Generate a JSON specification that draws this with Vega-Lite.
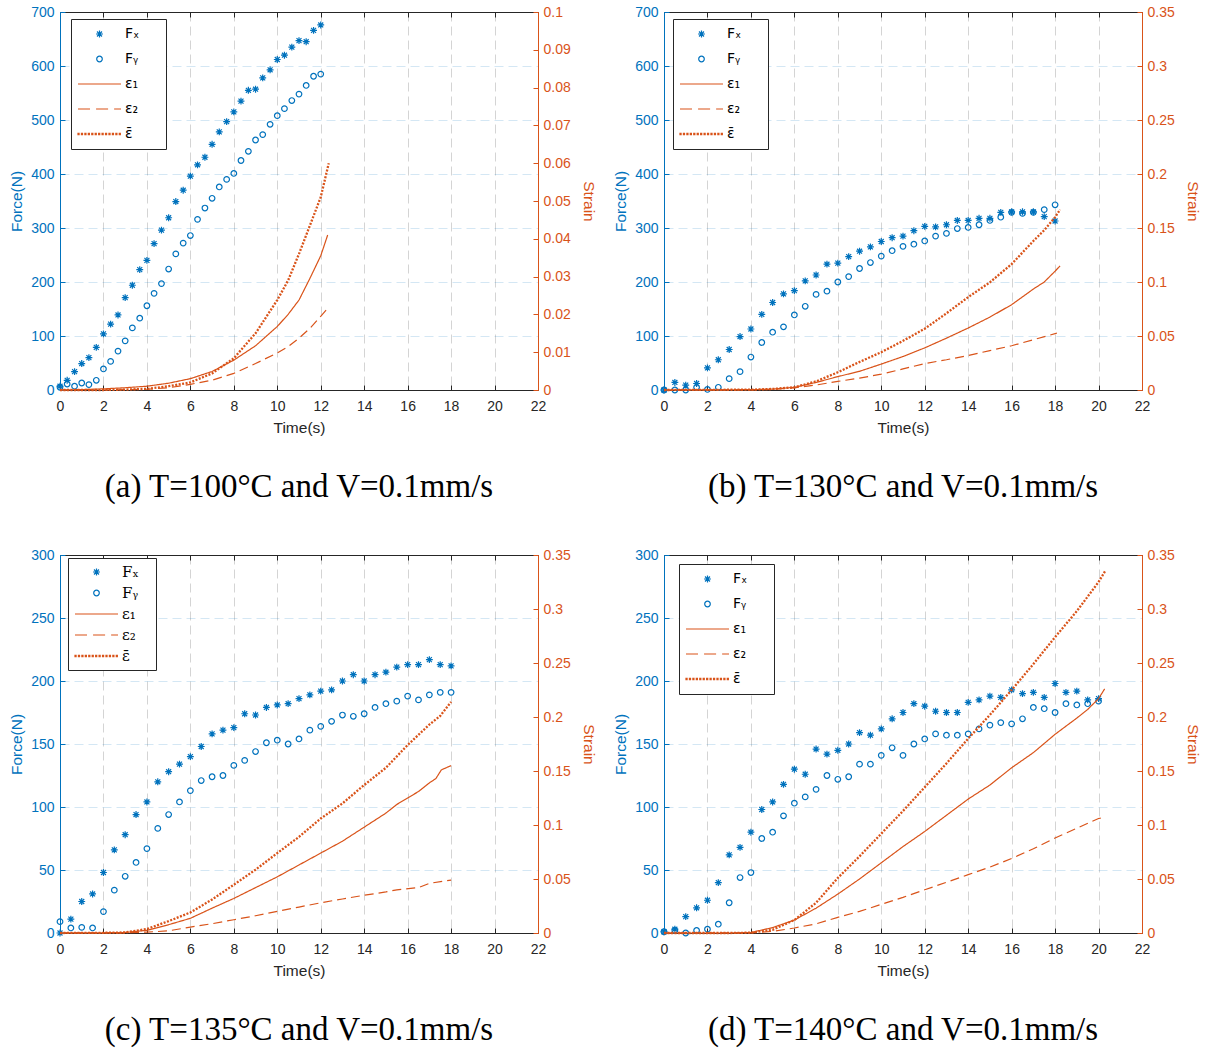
{
"$schema": "https://vega.github.io/schema/vega-lite/v6.json",
"background": "white",
"padding": {"left": 9, "top": 5, "right": 5, "bottom": 5},
"datasets": {
"fa": [
{"s":"Fx","t":0,"v":7},{"s":"Fx","t":0.33,"v":18},{"s":"Fx","t":0.67,"v":34},{"s":"Fx","t":1,"v":49},{"s":"Fx","t":1.33,"v":60},{"s":"Fx","t":1.67,"v":79},{"s":"Fx","t":2,"v":104},{"s":"Fx","t":2.33,"v":122},{"s":"Fx","t":2.67,"v":139},{"s":"Fx","t":3,"v":171},{"s":"Fx","t":3.33,"v":194},{"s":"Fx","t":3.67,"v":223},{"s":"Fx","t":4,"v":240},{"s":"Fx","t":4.33,"v":271},{"s":"Fx","t":4.67,"v":296},{"s":"Fx","t":5,"v":319},{"s":"Fx","t":5.33,"v":349},{"s":"Fx","t":5.67,"v":370},{"s":"Fx","t":6,"v":396},{"s":"Fx","t":6.33,"v":417},{"s":"Fx","t":6.67,"v":431},{"s":"Fx","t":7,"v":455},{"s":"Fx","t":7.33,"v":478},{"s":"Fx","t":7.67,"v":497},{"s":"Fx","t":8,"v":515},{"s":"Fx","t":8.33,"v":535},{"s":"Fx","t":8.67,"v":555},{"s":"Fx","t":9,"v":557},{"s":"Fx","t":9.33,"v":578},{"s":"Fx","t":9.67,"v":593},{"s":"Fx","t":10,"v":612},{"s":"Fx","t":10.33,"v":620},{"s":"Fx","t":10.67,"v":635},{"s":"Fx","t":11,"v":647},{"s":"Fx","t":11.33,"v":645},{"s":"Fx","t":11.67,"v":666},{"s":"Fx","t":12,"v":676},
{"s":"Fy","t":0,"v":5},{"s":"Fy","t":0.33,"v":11},{"s":"Fy","t":0.67,"v":7},{"s":"Fy","t":1,"v":13},{"s":"Fy","t":1.33,"v":10},{"s":"Fy","t":1.67,"v":18},{"s":"Fy","t":2,"v":39},{"s":"Fy","t":2.33,"v":53},{"s":"Fy","t":2.67,"v":72},{"s":"Fy","t":3,"v":91},{"s":"Fy","t":3.33,"v":115},{"s":"Fy","t":3.67,"v":133},{"s":"Fy","t":4,"v":156},{"s":"Fy","t":4.33,"v":179},{"s":"Fy","t":4.67,"v":197},{"s":"Fy","t":5,"v":224},{"s":"Fy","t":5.33,"v":252},{"s":"Fy","t":5.67,"v":272},{"s":"Fy","t":6,"v":286},{"s":"Fy","t":6.33,"v":316},{"s":"Fy","t":6.67,"v":337},{"s":"Fy","t":7,"v":355},{"s":"Fy","t":7.33,"v":376},{"s":"Fy","t":7.67,"v":390},{"s":"Fy","t":8,"v":401},{"s":"Fy","t":8.33,"v":425},{"s":"Fy","t":8.67,"v":442},{"s":"Fy","t":9,"v":463},{"s":"Fy","t":9.33,"v":473},{"s":"Fy","t":9.67,"v":492},{"s":"Fy","t":10,"v":508},{"s":"Fy","t":10.33,"v":521},{"s":"Fy","t":10.67,"v":536},{"s":"Fy","t":11,"v":548},{"s":"Fy","t":11.33,"v":564},{"s":"Fy","t":11.67,"v":581},{"s":"Fy","t":12,"v":585}
],
"sa": [
{"s":"e1","t":0,"v":0},{"s":"e1","t":1,"v":0.0001},{"s":"e1","t":2,"v":0.0003},{"s":"e1","t":3,"v":0.0006},{"s":"e1","t":4,"v":0.001},{"s":"e1","t":5,"v":0.0018},{"s":"e1","t":6,"v":0.003},{"s":"e1","t":7,"v":0.0049},{"s":"e1","t":8,"v":0.0079},{"s":"e1","t":9,"v":0.0117},{"s":"e1","t":10,"v":0.0168},{"s":"e1","t":10.5,"v":0.02},{"s":"e1","t":11,"v":0.0238},{"s":"e1","t":11.5,"v":0.0295},{"s":"e1","t":12,"v":0.0355},{"s":"e1","t":12.32,"v":0.041},
{"s":"e2","t":0,"v":0},{"s":"e2","t":2,"v":0},{"s":"e2","t":3,"v":0.0001},{"s":"e2","t":4,"v":0.0002},{"s":"e2","t":5,"v":0.0006},{"s":"e2","t":6,"v":0.0015},{"s":"e2","t":7,"v":0.0026},{"s":"e2","t":8,"v":0.0044},{"s":"e2","t":9,"v":0.007},{"s":"e2","t":10,"v":0.0098},{"s":"e2","t":10.5,"v":0.0115},{"s":"e2","t":11,"v":0.0137},{"s":"e2","t":11.5,"v":0.0163},{"s":"e2","t":12,"v":0.0195},{"s":"e2","t":12.3,"v":0.0215},
{"s":"ebar","t":0,"v":0},{"s":"ebar","t":2,"v":0},{"s":"ebar","t":3,"v":0.0001},{"s":"ebar","t":4,"v":0.0003},{"s":"ebar","t":5,"v":0.001},{"s":"ebar","t":6,"v":0.002},{"s":"ebar","t":7,"v":0.0044},{"s":"ebar","t":8,"v":0.0084},{"s":"ebar","t":9,"v":0.015},{"s":"ebar","t":10,"v":0.0238},{"s":"ebar","t":10.5,"v":0.029},{"s":"ebar","t":11,"v":0.036},{"s":"ebar","t":11.5,"v":0.0435},{"s":"ebar","t":12,"v":0.051},{"s":"ebar","t":12.37,"v":0.06}
],
"fb": [
{"s":"Fx","t":0,"v":0},{"s":"Fx","t":0.5,"v":14},{"s":"Fx","t":1,"v":9},{"s":"Fx","t":1.5,"v":12},{"s":"Fx","t":2,"v":41},{"s":"Fx","t":2.5,"v":56},{"s":"Fx","t":3,"v":75},{"s":"Fx","t":3.5,"v":99},{"s":"Fx","t":4,"v":113},{"s":"Fx","t":4.5,"v":140},{"s":"Fx","t":5,"v":162},{"s":"Fx","t":5.5,"v":178},{"s":"Fx","t":6,"v":184},{"s":"Fx","t":6.5,"v":202},{"s":"Fx","t":7,"v":213},{"s":"Fx","t":7.5,"v":233},{"s":"Fx","t":8,"v":235},{"s":"Fx","t":8.5,"v":247},{"s":"Fx","t":9,"v":257},{"s":"Fx","t":9.5,"v":265},{"s":"Fx","t":10,"v":275},{"s":"Fx","t":10.5,"v":282},{"s":"Fx","t":11,"v":285},{"s":"Fx","t":11.5,"v":295},{"s":"Fx","t":12,"v":303},{"s":"Fx","t":12.5,"v":302},{"s":"Fx","t":13,"v":306},{"s":"Fx","t":13.5,"v":314},{"s":"Fx","t":14,"v":314},{"s":"Fx","t":14.5,"v":318},{"s":"Fx","t":15,"v":318},{"s":"Fx","t":15.5,"v":329},{"s":"Fx","t":16,"v":330},{"s":"Fx","t":16.5,"v":330},{"s":"Fx","t":17,"v":330},{"s":"Fx","t":17.5,"v":321},{"s":"Fx","t":18,"v":313},
{"s":"Fy","t":0,"v":0},{"s":"Fy","t":0.5,"v":0},{"s":"Fy","t":1,"v":0},{"s":"Fy","t":1.5,"v":5},{"s":"Fy","t":2,"v":1},{"s":"Fy","t":2.5,"v":5},{"s":"Fy","t":3,"v":21},{"s":"Fy","t":3.5,"v":34},{"s":"Fy","t":4,"v":61},{"s":"Fy","t":4.5,"v":88},{"s":"Fy","t":5,"v":107},{"s":"Fy","t":5.5,"v":117},{"s":"Fy","t":6,"v":139},{"s":"Fy","t":6.5,"v":155},{"s":"Fy","t":7,"v":177},{"s":"Fy","t":7.5,"v":183},{"s":"Fy","t":8,"v":200},{"s":"Fy","t":8.5,"v":210},{"s":"Fy","t":9,"v":225},{"s":"Fy","t":9.5,"v":236},{"s":"Fy","t":10,"v":248},{"s":"Fy","t":10.5,"v":258},{"s":"Fy","t":11,"v":266},{"s":"Fy","t":11.5,"v":270},{"s":"Fy","t":12,"v":276},{"s":"Fy","t":12.5,"v":285},{"s":"Fy","t":13,"v":290},{"s":"Fy","t":13.5,"v":299},{"s":"Fy","t":14,"v":301},{"s":"Fy","t":14.5,"v":306},{"s":"Fy","t":15,"v":314},{"s":"Fy","t":15.5,"v":320},{"s":"Fy","t":16,"v":329},{"s":"Fy","t":16.5,"v":327},{"s":"Fy","t":17,"v":329},{"s":"Fy","t":17.5,"v":334},{"s":"Fy","t":18,"v":343}
],
"sb": [
{"s":"e1","t":0,"v":0},{"s":"e1","t":4,"v":0.0003},{"s":"e1","t":5,"v":0.0008},{"s":"e1","t":6,"v":0.0025},{"s":"e1","t":7,"v":0.007},{"s":"e1","t":8,"v":0.0124},{"s":"e1","t":9,"v":0.0173},{"s":"e1","t":10,"v":0.024},{"s":"e1","t":11,"v":0.031},{"s":"e1","t":12,"v":0.039},{"s":"e1","t":13,"v":0.048},{"s":"e1","t":14,"v":0.0574},{"s":"e1","t":15,"v":0.0675},{"s":"e1","t":16,"v":0.079},{"s":"e1","t":17,"v":0.0935},{"s":"e1","t":17.5,"v":0.1},{"s":"e1","t":18,"v":0.11},{"s":"e1","t":18.23,"v":0.115},
{"s":"e2","t":0,"v":0},{"s":"e2","t":4,"v":0.0002},{"s":"e2","t":5,"v":0.0006},{"s":"e2","t":6,"v":0.002},{"s":"e2","t":7,"v":0.0046},{"s":"e2","t":8,"v":0.008},{"s":"e2","t":9,"v":0.011},{"s":"e2","t":10,"v":0.0147},{"s":"e2","t":11,"v":0.0195},{"s":"e2","t":12,"v":0.0245},{"s":"e2","t":13,"v":0.028},{"s":"e2","t":14,"v":0.032},{"s":"e2","t":15,"v":0.0365},{"s":"e2","t":16,"v":0.041},{"s":"e2","t":17,"v":0.0465},{"s":"e2","t":18.08,"v":0.0527},
{"s":"ebar","t":0,"v":0},{"s":"ebar","t":4,"v":0.0003},{"s":"ebar","t":5,"v":0.001},{"s":"ebar","t":6,"v":0.0025},{"s":"ebar","t":7,"v":0.008},{"s":"ebar","t":8,"v":0.0164},{"s":"ebar","t":9,"v":0.026},{"s":"ebar","t":10,"v":0.035},{"s":"ebar","t":11,"v":0.0455},{"s":"ebar","t":12,"v":0.0567},{"s":"ebar","t":13,"v":0.071},{"s":"ebar","t":14,"v":0.086},{"s":"ebar","t":15,"v":0.0997},{"s":"ebar","t":16,"v":0.1166},{"s":"ebar","t":17,"v":0.138},{"s":"ebar","t":17.5,"v":0.148},{"s":"ebar","t":18,"v":0.16},{"s":"ebar","t":18.23,"v":0.167}
],
"fc": [
{"s":"Fx","t":0,"v":0},{"s":"Fx","t":0.5,"v":11},{"s":"Fx","t":1,"v":25},{"s":"Fx","t":1.5,"v":31},{"s":"Fx","t":2,"v":48},{"s":"Fx","t":2.5,"v":66},{"s":"Fx","t":3,"v":78},{"s":"Fx","t":3.5,"v":94},{"s":"Fx","t":4,"v":104},{"s":"Fx","t":4.5,"v":120},{"s":"Fx","t":5,"v":128},{"s":"Fx","t":5.5,"v":134},{"s":"Fx","t":6,"v":140},{"s":"Fx","t":6.5,"v":148},{"s":"Fx","t":7,"v":158},{"s":"Fx","t":7.5,"v":161},{"s":"Fx","t":8,"v":163},{"s":"Fx","t":8.5,"v":174},{"s":"Fx","t":9,"v":173},{"s":"Fx","t":9.5,"v":179},{"s":"Fx","t":10,"v":181},{"s":"Fx","t":10.5,"v":182},{"s":"Fx","t":11,"v":186},{"s":"Fx","t":11.5,"v":189},{"s":"Fx","t":12,"v":192},{"s":"Fx","t":12.5,"v":193},{"s":"Fx","t":13,"v":200},{"s":"Fx","t":13.5,"v":205},{"s":"Fx","t":14,"v":200},{"s":"Fx","t":14.5,"v":205},{"s":"Fx","t":15,"v":207},{"s":"Fx","t":15.5,"v":211},{"s":"Fx","t":16,"v":213},{"s":"Fx","t":16.5,"v":213},{"s":"Fx","t":17,"v":217},{"s":"Fx","t":17.5,"v":213},{"s":"Fx","t":18,"v":212},
{"s":"Fy","t":0,"v":9},{"s":"Fy","t":0.5,"v":4},{"s":"Fy","t":1,"v":4.5},{"s":"Fy","t":1.5,"v":4},{"s":"Fy","t":2,"v":17},{"s":"Fy","t":2.5,"v":34},{"s":"Fy","t":3,"v":45},{"s":"Fy","t":3.5,"v":56},{"s":"Fy","t":4,"v":67},{"s":"Fy","t":4.5,"v":83},{"s":"Fy","t":5,"v":94},{"s":"Fy","t":5.5,"v":104},{"s":"Fy","t":6,"v":113},{"s":"Fy","t":6.5,"v":121},{"s":"Fy","t":7,"v":124},{"s":"Fy","t":7.5,"v":125},{"s":"Fy","t":8,"v":133},{"s":"Fy","t":8.5,"v":137},{"s":"Fy","t":9,"v":144},{"s":"Fy","t":9.5,"v":151},{"s":"Fy","t":10,"v":153},{"s":"Fy","t":10.5,"v":150},{"s":"Fy","t":11,"v":154},{"s":"Fy","t":11.5,"v":161},{"s":"Fy","t":12,"v":164},{"s":"Fy","t":12.5,"v":168},{"s":"Fy","t":13,"v":173},{"s":"Fy","t":13.5,"v":172},{"s":"Fy","t":14,"v":174},{"s":"Fy","t":14.5,"v":179},{"s":"Fy","t":15,"v":182},{"s":"Fy","t":15.5,"v":184},{"s":"Fy","t":16,"v":188},{"s":"Fy","t":16.5,"v":185},{"s":"Fy","t":17,"v":189},{"s":"Fy","t":17.5,"v":191},{"s":"Fy","t":18,"v":191}
],
"sc": [
{"s":"e1","t":0,"v":0},{"s":"e1","t":2,"v":0.0002},{"s":"e1","t":3,"v":0.0005},{"s":"e1","t":4,"v":0.0025},{"s":"e1","t":5,"v":0.0077},{"s":"e1","t":6,"v":0.0136},{"s":"e1","t":7,"v":0.023},{"s":"e1","t":8,"v":0.032},{"s":"e1","t":9,"v":0.042},{"s":"e1","t":10,"v":0.052},{"s":"e1","t":11,"v":0.063},{"s":"e1","t":12,"v":0.074},{"s":"e1","t":13,"v":0.085},{"s":"e1","t":14,"v":0.098},{"s":"e1","t":15,"v":0.111},{"s":"e1","t":15.5,"v":0.119},{"s":"e1","t":16,"v":0.125},{"s":"e1","t":16.5,"v":0.131},{"s":"e1","t":17,"v":0.139},{"s":"e1","t":17.3,"v":0.143},{"s":"e1","t":17.55,"v":0.151},{"s":"e1","t":18,"v":0.155},
{"s":"e2","t":0,"v":0},{"s":"e2","t":3,"v":0.0002},{"s":"e2","t":4,"v":0.0008},{"s":"e2","t":5,"v":0.002},{"s":"e2","t":6,"v":0.0055},{"s":"e2","t":7,"v":0.0086},{"s":"e2","t":8,"v":0.0123},{"s":"e2","t":9,"v":0.016},{"s":"e2","t":10,"v":0.02},{"s":"e2","t":11,"v":0.024},{"s":"e2","t":12,"v":0.028},{"s":"e2","t":13,"v":0.0315},{"s":"e2","t":14,"v":0.035},{"s":"e2","t":15,"v":0.038},{"s":"e2","t":15.5,"v":0.04},{"s":"e2","t":16.5,"v":0.042},{"s":"e2","t":17,"v":0.046},{"s":"e2","t":18,"v":0.049},
{"s":"ebar","t":0,"v":0},{"s":"ebar","t":2,"v":0.0002},{"s":"ebar","t":3,"v":0.0005},{"s":"ebar","t":4,"v":0.0037},{"s":"ebar","t":5,"v":0.011},{"s":"ebar","t":6,"v":0.019},{"s":"ebar","t":7,"v":0.031},{"s":"ebar","t":8,"v":0.0447},{"s":"ebar","t":9,"v":0.0586},{"s":"ebar","t":10,"v":0.074},{"s":"ebar","t":11,"v":0.089},{"s":"ebar","t":12,"v":0.106},{"s":"ebar","t":13,"v":0.12},{"s":"ebar","t":14,"v":0.137},{"s":"ebar","t":15,"v":0.153},{"s":"ebar","t":16,"v":0.174},{"s":"ebar","t":17,"v":0.193},{"s":"ebar","t":17.5,"v":0.201},{"s":"ebar","t":18,"v":0.214}
],
"fd": [
{"s":"Fx","t":0,"v":1},{"s":"Fx","t":0.5,"v":3},{"s":"Fx","t":1,"v":13},{"s":"Fx","t":1.5,"v":20},{"s":"Fx","t":2,"v":26},{"s":"Fx","t":2.5,"v":40},{"s":"Fx","t":3,"v":62},{"s":"Fx","t":3.5,"v":68},{"s":"Fx","t":4,"v":80},{"s":"Fx","t":4.5,"v":98},{"s":"Fx","t":5,"v":104},{"s":"Fx","t":5.5,"v":118},{"s":"Fx","t":6,"v":130},{"s":"Fx","t":6.5,"v":126},{"s":"Fx","t":7,"v":146},{"s":"Fx","t":7.5,"v":142},{"s":"Fx","t":8,"v":145},{"s":"Fx","t":8.5,"v":150},{"s":"Fx","t":9,"v":159},{"s":"Fx","t":9.5,"v":157},{"s":"Fx","t":10,"v":162},{"s":"Fx","t":10.5,"v":170},{"s":"Fx","t":11,"v":175},{"s":"Fx","t":11.5,"v":182},{"s":"Fx","t":12,"v":180},{"s":"Fx","t":12.5,"v":176},{"s":"Fx","t":13,"v":175},{"s":"Fx","t":13.5,"v":175},{"s":"Fx","t":14,"v":183},{"s":"Fx","t":14.5,"v":185},{"s":"Fx","t":15,"v":188},{"s":"Fx","t":15.5,"v":187},{"s":"Fx","t":16,"v":193},{"s":"Fx","t":16.5,"v":190},{"s":"Fx","t":17,"v":191},{"s":"Fx","t":17.5,"v":187},{"s":"Fx","t":18,"v":198},{"s":"Fx","t":18.5,"v":191},{"s":"Fx","t":19,"v":192},{"s":"Fx","t":19.5,"v":185},{"s":"Fx","t":20,"v":186},
{"s":"Fy","t":0,"v":1},{"s":"Fy","t":0.5,"v":2},{"s":"Fy","t":1,"v":0},{"s":"Fy","t":1.5,"v":2},{"s":"Fy","t":2,"v":3},{"s":"Fy","t":2.5,"v":7},{"s":"Fy","t":3,"v":24},{"s":"Fy","t":3.5,"v":44},{"s":"Fy","t":4,"v":48},{"s":"Fy","t":4.5,"v":75},{"s":"Fy","t":5,"v":80},{"s":"Fy","t":5.5,"v":93},{"s":"Fy","t":6,"v":103},{"s":"Fy","t":6.5,"v":108},{"s":"Fy","t":7,"v":114},{"s":"Fy","t":7.5,"v":125},{"s":"Fy","t":8,"v":122},{"s":"Fy","t":8.5,"v":124},{"s":"Fy","t":9,"v":134},{"s":"Fy","t":9.5,"v":134},{"s":"Fy","t":10,"v":141},{"s":"Fy","t":10.5,"v":147},{"s":"Fy","t":11,"v":141},{"s":"Fy","t":11.5,"v":150},{"s":"Fy","t":12,"v":154},{"s":"Fy","t":12.5,"v":158},{"s":"Fy","t":13,"v":157},{"s":"Fy","t":13.5,"v":157},{"s":"Fy","t":14,"v":158},{"s":"Fy","t":14.5,"v":162},{"s":"Fy","t":15,"v":165},{"s":"Fy","t":15.5,"v":167},{"s":"Fy","t":16,"v":166},{"s":"Fy","t":16.5,"v":170},{"s":"Fy","t":17,"v":179},{"s":"Fy","t":17.5,"v":178},{"s":"Fy","t":18,"v":175},{"s":"Fy","t":18.5,"v":182},{"s":"Fy","t":19,"v":181},{"s":"Fy","t":19.5,"v":182},{"s":"Fy","t":20,"v":184}
],
"sd": [
{"s":"e1","t":0,"v":0},{"s":"e1","t":3,"v":0},{"s":"e1","t":4,"v":0.0005},{"s":"e1","t":5,"v":0.005},{"s":"e1","t":6,"v":0.012},{"s":"e1","t":7,"v":0.023},{"s":"e1","t":8,"v":0.036},{"s":"e1","t":9,"v":0.05},{"s":"e1","t":10,"v":0.065},{"s":"e1","t":11,"v":0.08},{"s":"e1","t":12,"v":0.094},{"s":"e1","t":13,"v":0.109},{"s":"e1","t":14,"v":0.124},{"s":"e1","t":15,"v":0.137},{"s":"e1","t":16,"v":0.153},{"s":"e1","t":17,"v":0.167},{"s":"e1","t":18,"v":0.184},{"s":"e1","t":19,"v":0.199},{"s":"e1","t":19.5,"v":0.207},{"s":"e1","t":20,"v":0.217},{"s":"e1","t":20.28,"v":0.226},
{"s":"e2","t":0,"v":0},{"s":"e2","t":4,"v":0.0002},{"s":"e2","t":5,"v":0.0015},{"s":"e2","t":6,"v":0.0046},{"s":"e2","t":7,"v":0.0085},{"s":"e2","t":8,"v":0.0145},{"s":"e2","t":9,"v":0.02},{"s":"e2","t":10,"v":0.0265},{"s":"e2","t":11,"v":0.033},{"s":"e2","t":12,"v":0.04},{"s":"e2","t":13,"v":0.047},{"s":"e2","t":14,"v":0.054},{"s":"e2","t":15,"v":0.061},{"s":"e2","t":16,"v":0.069},{"s":"e2","t":17,"v":0.078},{"s":"e2","t":18,"v":0.088},{"s":"e2","t":19,"v":0.097},{"s":"e2","t":20,"v":0.106},{"s":"e2","t":20.28,"v":0.107},
{"s":"ebar","t":0,"v":0},{"s":"ebar","t":3,"v":0},{"s":"ebar","t":4,"v":0.0003},{"s":"ebar","t":5,"v":0.003},{"s":"ebar","t":6,"v":0.012},{"s":"ebar","t":7,"v":0.028},{"s":"ebar","t":8,"v":0.051},{"s":"ebar","t":9,"v":0.071},{"s":"ebar","t":10,"v":0.092},{"s":"ebar","t":11,"v":0.113},{"s":"ebar","t":12,"v":0.135},{"s":"ebar","t":13,"v":0.157},{"s":"ebar","t":14,"v":0.18},{"s":"ebar","t":15,"v":0.202},{"s":"ebar","t":16,"v":0.225},{"s":"ebar","t":17,"v":0.249},{"s":"ebar","t":18,"v":0.274},{"s":"ebar","t":19,"v":0.298},{"s":"ebar","t":20,"v":0.325},{"s":"ebar","t":20.3,"v":0.335}
]
},
"columns": 2,
"spacing": {"row": 165, "column": 126},
"bounds": "flush",
"resolve": {"scale": {"x": "independent", "y": "independent", "color": "independent", "shape": "independent", "strokeDash": "independent"}},
"concat": [
{
"width": 478, "height": 378,
"title": {"text": "(a) T=100°C and V=0.1mm/s"},
"resolve": {"scale": {"y": "independent"}, "axis": {"x": "independent"}},
"layer": [
{"data": {"name": "fa"},
"mark": {"type": "point", "filled": false, "size": 1849, "strokeWidth": 1.2, "opacity": 1},
"encoding": {
"x": {"field": "t", "type": "quantitative", "scale": {"domain": [0, 22], "nice": false}, "axis": {"orient": "bottom", "title": "Time(s)", "grid": true, "values": [0,2,4,6,8,10,12,14,16,18,20,22]}},
"y": {"field": "v", "type": "quantitative", "scale": {"domain": [0, 700], "nice": false}, "axis": {"orient": "left", "title": "Force(N)", "grid": true, "values": [0,100,200,300,400,500,600,700]}},
"color": {"field": "s", "type": "nominal", "scale": {"domain": ["Fx","Fy","e1","e2","ebar"], "range": ["#0072BD","#0072BD","#D95319","#D95319","#D95319"]}, "legend": {"orient": "none", "legendX": 11, "legendY": 7, "labelExpr": "(datum.label=='Fx'?'F\u2093':datum.label=='Fy'?'F\u1d67':datum.label=='e1'?'\u03b5\u2081':datum.label=='e2'?'\u03b5\u2082':'\u03b5\u0304')+'\u2800\u2800'"}},
"shape": {"field": "s", "type": "nominal", "scale": {"domain": ["Fx","Fy","e1","e2","ebar"], "range": ["M-0.16,0H0.16M0,-0.16V0.16M-0.115,-0.115L0.115,0.115M-0.115,0.115L0.115,-0.115","M0.13,0A0.13,0.13,0,1,1,-0.13,0A0.13,0.13,0,1,1,0.13,0Z","M-1,0H1","M-1,0H-0.44M-0.16,0H0.4M0.68,0H1","M-1,-0.025h0.05v0.05h-0.05zM-0.84,-0.025h0.05v0.05h-0.05zM-0.68,-0.025h0.05v0.05h-0.05zM-0.52,-0.025h0.05v0.05h-0.05zM-0.36,-0.025h0.05v0.05h-0.05zM-0.2,-0.025h0.05v0.05h-0.05zM-0.04,-0.025h0.05v0.05h-0.05zM0.12,-0.025h0.05v0.05h-0.05zM0.28,-0.025h0.05v0.05h-0.05zM0.44,-0.025h0.05v0.05h-0.05zM0.6,-0.025h0.05v0.05h-0.05zM0.76,-0.025h0.05v0.05h-0.05zM0.92,-0.025h0.05v0.05h-0.05z"]}, "legend": {"orient": "none", "legendX": 11, "legendY": 7, "labelExpr": "(datum.label=='Fx'?'F\u2093':datum.label=='Fy'?'F\u1d67':datum.label=='e1'?'\u03b5\u2081':datum.label=='e2'?'\u03b5\u2082':'\u03b5\u0304')+'\u2800\u2800'"}}
}},
{"data": {"name": "sa"},
"mark": {"type": "line"},
"encoding": {
"x": {"field": "t", "type": "quantitative", "scale": {"domain": [0, 22], "nice": false}, "axis": {"orient": "top", "title": null, "labels": false, "grid": false, "values": [0,2,4,6,8,10,12,14,16,18,20,22]}},
"y": {"field": "v", "type": "quantitative", "scale": {"domain": [0, 0.1], "nice": false}, "axis": {"orient": "right", "title": "Strain", "grid": false, "format": "~g", "values": [0,0.01,0.02,0.03,0.04,0.05,0.06,0.07,0.08,0.09,0.1]}},
"color": {"field": "s", "type": "nominal", "scale": {"domain": ["Fx","Fy","e1","e2","ebar"], "range": ["#0072BD","#0072BD","#D95319","#D95319","#D95319"]}, "legend": null},
"strokeDash": {"field": "s", "type": "nominal", "scale": {"domain": ["e1","e2","ebar"], "range": [[1,0],[9,5],[2,1.5]]}, "legend": null},
"strokeWidth": {"condition": {"test": "datum.s=='ebar'", "value": 2.3}, "value": 1.2}
}}
]
},
{
"width": 478, "height": 378,
"title": {"text": "(b) T=130°C and V=0.1mm/s"},
"resolve": {"scale": {"y": "independent"}, "axis": {"x": "independent"}},
"layer": [
{"data": {"name": "fb"},
"mark": {"type": "point", "filled": false, "size": 1849, "strokeWidth": 1.2, "opacity": 1},
"encoding": {
"x": {"field": "t", "type": "quantitative", "scale": {"domain": [0, 22], "nice": false}, "axis": {"orient": "bottom", "title": "Time(s)", "grid": true, "values": [0,2,4,6,8,10,12,14,16,18,20,22]}},
"y": {"field": "v", "type": "quantitative", "scale": {"domain": [0, 700], "nice": false}, "axis": {"orient": "left", "title": "Force(N)", "grid": true, "values": [0,100,200,300,400,500,600,700]}},
"color": {"field": "s", "type": "nominal", "scale": {"domain": ["Fx","Fy","e1","e2","ebar"], "range": ["#0072BD","#0072BD","#D95319","#D95319","#D95319"]}, "legend": {"orient": "none", "legendX": 9, "legendY": 7, "labelExpr": "(datum.label=='Fx'?'F\u2093':datum.label=='Fy'?'F\u1d67':datum.label=='e1'?'\u03b5\u2081':datum.label=='e2'?'\u03b5\u2082':'\u03b5\u0304')+'\u2800\u2800'"}},
"shape": {"field": "s", "type": "nominal", "scale": {"domain": ["Fx","Fy","e1","e2","ebar"], "range": ["M-0.16,0H0.16M0,-0.16V0.16M-0.115,-0.115L0.115,0.115M-0.115,0.115L0.115,-0.115","M0.13,0A0.13,0.13,0,1,1,-0.13,0A0.13,0.13,0,1,1,0.13,0Z","M-1,0H1","M-1,0H-0.44M-0.16,0H0.4M0.68,0H1","M-1,-0.025h0.05v0.05h-0.05zM-0.84,-0.025h0.05v0.05h-0.05zM-0.68,-0.025h0.05v0.05h-0.05zM-0.52,-0.025h0.05v0.05h-0.05zM-0.36,-0.025h0.05v0.05h-0.05zM-0.2,-0.025h0.05v0.05h-0.05zM-0.04,-0.025h0.05v0.05h-0.05zM0.12,-0.025h0.05v0.05h-0.05zM0.28,-0.025h0.05v0.05h-0.05zM0.44,-0.025h0.05v0.05h-0.05zM0.6,-0.025h0.05v0.05h-0.05zM0.76,-0.025h0.05v0.05h-0.05zM0.92,-0.025h0.05v0.05h-0.05z"]}, "legend": {"orient": "none", "legendX": 9, "legendY": 7, "labelExpr": "(datum.label=='Fx'?'F\u2093':datum.label=='Fy'?'F\u1d67':datum.label=='e1'?'\u03b5\u2081':datum.label=='e2'?'\u03b5\u2082':'\u03b5\u0304')+'\u2800\u2800'"}}
}},
{"data": {"name": "sb"},
"mark": {"type": "line"},
"encoding": {
"x": {"field": "t", "type": "quantitative", "scale": {"domain": [0, 22], "nice": false}, "axis": {"orient": "top", "title": null, "labels": false, "grid": false, "values": [0,2,4,6,8,10,12,14,16,18,20,22]}},
"y": {"field": "v", "type": "quantitative", "scale": {"domain": [0, 0.35], "nice": false}, "axis": {"orient": "right", "title": "Strain", "grid": false, "format": "~g", "values": [0,0.05,0.1,0.15,0.2,0.25,0.3,0.35]}},
"color": {"field": "s", "type": "nominal", "scale": {"domain": ["Fx","Fy","e1","e2","ebar"], "range": ["#0072BD","#0072BD","#D95319","#D95319","#D95319"]}, "legend": null},
"strokeDash": {"field": "s", "type": "nominal", "scale": {"domain": ["e1","e2","ebar"], "range": [[1,0],[9,5],[2,1.5]]}, "legend": null},
"strokeWidth": {"condition": {"test": "datum.s=='ebar'", "value": 2.3}, "value": 1.2}
}}
]
},
{
"width": 478, "height": 378,
"title": {"text": "(c) T=135°C and V=0.1mm/s"},
"resolve": {"scale": {"y": "independent"}, "axis": {"x": "independent"}},
"layer": [
{"data": {"name": "fc"},
"mark": {"type": "point", "filled": false, "size": 1849, "strokeWidth": 1.2, "opacity": 1},
"encoding": {
"x": {"field": "t", "type": "quantitative", "scale": {"domain": [0, 22], "nice": false}, "axis": {"orient": "bottom", "title": "Time(s)", "grid": true, "values": [0,2,4,6,8,10,12,14,16,18,20,22]}},
"y": {"field": "v", "type": "quantitative", "scale": {"domain": [0, 300], "nice": false}, "axis": {"orient": "left", "title": "Force(N)", "grid": true, "values": [0,50,100,150,200,250,300]}},
"color": {"field": "s", "type": "nominal", "scale": {"domain": ["Fx","Fy","e1","e2","ebar"], "range": ["#0072BD","#0072BD","#D95319","#D95319","#D95319"]}, "legend": {"orient": "none", "legendX": 8, "legendY": 3, "labelFont": "DejaVu Serif", "labelFontSize": 15, "clipHeight": 16, "rowPadding": 5, "labelExpr": "(datum.label=='Fx'?'F\u2093':datum.label=='Fy'?'F\u1d67':datum.label=='e1'?'\u03b5\u2081':datum.label=='e2'?'\u03b5\u2082':'\u03b5\u0304')+'\u2800'"}},
"shape": {"field": "s", "type": "nominal", "scale": {"domain": ["Fx","Fy","e1","e2","ebar"], "range": ["M-0.16,0H0.16M0,-0.16V0.16M-0.115,-0.115L0.115,0.115M-0.115,0.115L0.115,-0.115","M0.13,0A0.13,0.13,0,1,1,-0.13,0A0.13,0.13,0,1,1,0.13,0Z","M-1,0H1","M-1,0H-0.44M-0.16,0H0.4M0.68,0H1","M-1,-0.025h0.05v0.05h-0.05zM-0.84,-0.025h0.05v0.05h-0.05zM-0.68,-0.025h0.05v0.05h-0.05zM-0.52,-0.025h0.05v0.05h-0.05zM-0.36,-0.025h0.05v0.05h-0.05zM-0.2,-0.025h0.05v0.05h-0.05zM-0.04,-0.025h0.05v0.05h-0.05zM0.12,-0.025h0.05v0.05h-0.05zM0.28,-0.025h0.05v0.05h-0.05zM0.44,-0.025h0.05v0.05h-0.05zM0.6,-0.025h0.05v0.05h-0.05zM0.76,-0.025h0.05v0.05h-0.05zM0.92,-0.025h0.05v0.05h-0.05z"]}, "legend": {"orient": "none", "legendX": 8, "legendY": 3, "labelFont": "DejaVu Serif", "labelFontSize": 15, "clipHeight": 16, "rowPadding": 5, "labelExpr": "(datum.label=='Fx'?'F\u2093':datum.label=='Fy'?'F\u1d67':datum.label=='e1'?'\u03b5\u2081':datum.label=='e2'?'\u03b5\u2082':'\u03b5\u0304')+'\u2800'"}}
}},
{"data": {"name": "sc"},
"mark": {"type": "line"},
"encoding": {
"x": {"field": "t", "type": "quantitative", "scale": {"domain": [0, 22], "nice": false}, "axis": {"orient": "top", "title": null, "labels": false, "grid": false, "values": [0,2,4,6,8,10,12,14,16,18,20,22]}},
"y": {"field": "v", "type": "quantitative", "scale": {"domain": [0, 0.35], "nice": false}, "axis": {"orient": "right", "title": "Strain", "grid": false, "format": "~g", "values": [0,0.05,0.1,0.15,0.2,0.25,0.3,0.35]}},
"color": {"field": "s", "type": "nominal", "scale": {"domain": ["Fx","Fy","e1","e2","ebar"], "range": ["#0072BD","#0072BD","#D95319","#D95319","#D95319"]}, "legend": null},
"strokeDash": {"field": "s", "type": "nominal", "scale": {"domain": ["e1","e2","ebar"], "range": [[1,0],[9,5],[2,1.5]]}, "legend": null},
"strokeWidth": {"condition": {"test": "datum.s=='ebar'", "value": 2.3}, "value": 1.2}
}}
]
},
{
"width": 478, "height": 378,
"title": {"text": "(d) T=140°C and V=0.1mm/s"},
"resolve": {"scale": {"y": "independent"}, "axis": {"x": "independent"}},
"layer": [
{"data": {"name": "fd"},
"mark": {"type": "point", "filled": false, "size": 1849, "strokeWidth": 1.2, "opacity": 1},
"encoding": {
"x": {"field": "t", "type": "quantitative", "scale": {"domain": [0, 22], "nice": false}, "axis": {"orient": "bottom", "title": "Time(s)", "grid": true, "values": [0,2,4,6,8,10,12,14,16,18,20,22]}},
"y": {"field": "v", "type": "quantitative", "scale": {"domain": [0, 300], "nice": false}, "axis": {"orient": "left", "title": "Force(N)", "grid": true, "values": [0,50,100,150,200,250,300]}},
"color": {"field": "s", "type": "nominal", "scale": {"domain": ["Fx","Fy","e1","e2","ebar"], "range": ["#0072BD","#0072BD","#D95319","#D95319","#D95319"]}, "legend": {"orient": "none", "legendX": 15, "legendY": 9, "labelExpr": "(datum.label=='Fx'?'F\u2093':datum.label=='Fy'?'F\u1d67':datum.label=='e1'?'\u03b5\u2081':datum.label=='e2'?'\u03b5\u2082':'\u03b5\u0304')+'\u2800\u2800'"}},
"shape": {"field": "s", "type": "nominal", "scale": {"domain": ["Fx","Fy","e1","e2","ebar"], "range": ["M-0.16,0H0.16M0,-0.16V0.16M-0.115,-0.115L0.115,0.115M-0.115,0.115L0.115,-0.115","M0.13,0A0.13,0.13,0,1,1,-0.13,0A0.13,0.13,0,1,1,0.13,0Z","M-1,0H1","M-1,0H-0.44M-0.16,0H0.4M0.68,0H1","M-1,-0.025h0.05v0.05h-0.05zM-0.84,-0.025h0.05v0.05h-0.05zM-0.68,-0.025h0.05v0.05h-0.05zM-0.52,-0.025h0.05v0.05h-0.05zM-0.36,-0.025h0.05v0.05h-0.05zM-0.2,-0.025h0.05v0.05h-0.05zM-0.04,-0.025h0.05v0.05h-0.05zM0.12,-0.025h0.05v0.05h-0.05zM0.28,-0.025h0.05v0.05h-0.05zM0.44,-0.025h0.05v0.05h-0.05zM0.6,-0.025h0.05v0.05h-0.05zM0.76,-0.025h0.05v0.05h-0.05zM0.92,-0.025h0.05v0.05h-0.05z"]}, "legend": {"orient": "none", "legendX": 15, "legendY": 9, "labelExpr": "(datum.label=='Fx'?'F\u2093':datum.label=='Fy'?'F\u1d67':datum.label=='e1'?'\u03b5\u2081':datum.label=='e2'?'\u03b5\u2082':'\u03b5\u0304')+'\u2800\u2800'"}}
}},
{"data": {"name": "sd"},
"mark": {"type": "line"},
"encoding": {
"x": {"field": "t", "type": "quantitative", "scale": {"domain": [0, 22], "nice": false}, "axis": {"orient": "top", "title": null, "labels": false, "grid": false, "values": [0,2,4,6,8,10,12,14,16,18,20,22]}},
"y": {"field": "v", "type": "quantitative", "scale": {"domain": [0, 0.35], "nice": false}, "axis": {"orient": "right", "title": "Strain", "grid": false, "format": "~g", "values": [0,0.05,0.1,0.15,0.2,0.25,0.3,0.35]}},
"color": {"field": "s", "type": "nominal", "scale": {"domain": ["Fx","Fy","e1","e2","ebar"], "range": ["#0072BD","#0072BD","#D95319","#D95319","#D95319"]}, "legend": null},
"strokeDash": {"field": "s", "type": "nominal", "scale": {"domain": ["e1","e2","ebar"], "range": [[1,0],[9,5],[2,1.5]]}, "legend": null},
"strokeWidth": {"condition": {"test": "datum.s=='ebar'", "value": 2.3}, "value": 1.2}
}}
]
}
],
"config": {
"view": {"stroke": null},
"font": "Liberation Sans",
"axis": {"labelFont": "Liberation Sans", "labelFontSize": 14, "titleFont": "Liberation Sans", "titleFontSize": 15.5, "titleFontWeight": "normal", "tickSize": -5, "tickWidth": 1, "domainWidth": 1, "labelFlush": false, "labelOverlap": false},
"axisBottom": {"domainColor": "#262626", "tickColor": "#262626", "labelColor": "#262626", "titleColor": "#262626", "gridColor": "#262626", "gridOpacity": 0.2, "gridDash": [9, 5], "labelPadding": 14, "titlePadding": 7},
"axisTop": {"domainColor": "#262626", "tickColor": "#262626"},
"axisLeft": {"domainColor": "#0072BD", "tickColor": "#0072BD", "labelColor": "#0072BD", "titleColor": "#0072BD", "gridColor": "#0072BD", "gridOpacity": 0.17, "gridDash": [9, 5], "labelPadding": 11, "titlePadding": 6},
"axisRight": {"domainColor": "#D95319", "tickColor": "#D95319", "labelColor": "#D95319", "titleColor": "#D95319", "labelPadding": 10, "titlePadding": 10},
"title": {"font": "Liberation Serif", "fontSize": 33, "fontWeight": "normal", "color": "black", "anchor": "middle", "frame": "group", "orient": "bottom", "offset": 35},
"legend": {"title": null, "strokeColor": "#262626", "fillColor": "white", "padding": 6, "symbolSize": 1849, "symbolStrokeWidth": 1.2, "symbolOpacity": 1, "clipHeight": 18, "rowPadding": 7, "labelOffset": 3, "symbolOffset": 0, "labelFont": "DejaVu Sans", "labelFontSize": 14, "labelColor": "black"}
}
}
